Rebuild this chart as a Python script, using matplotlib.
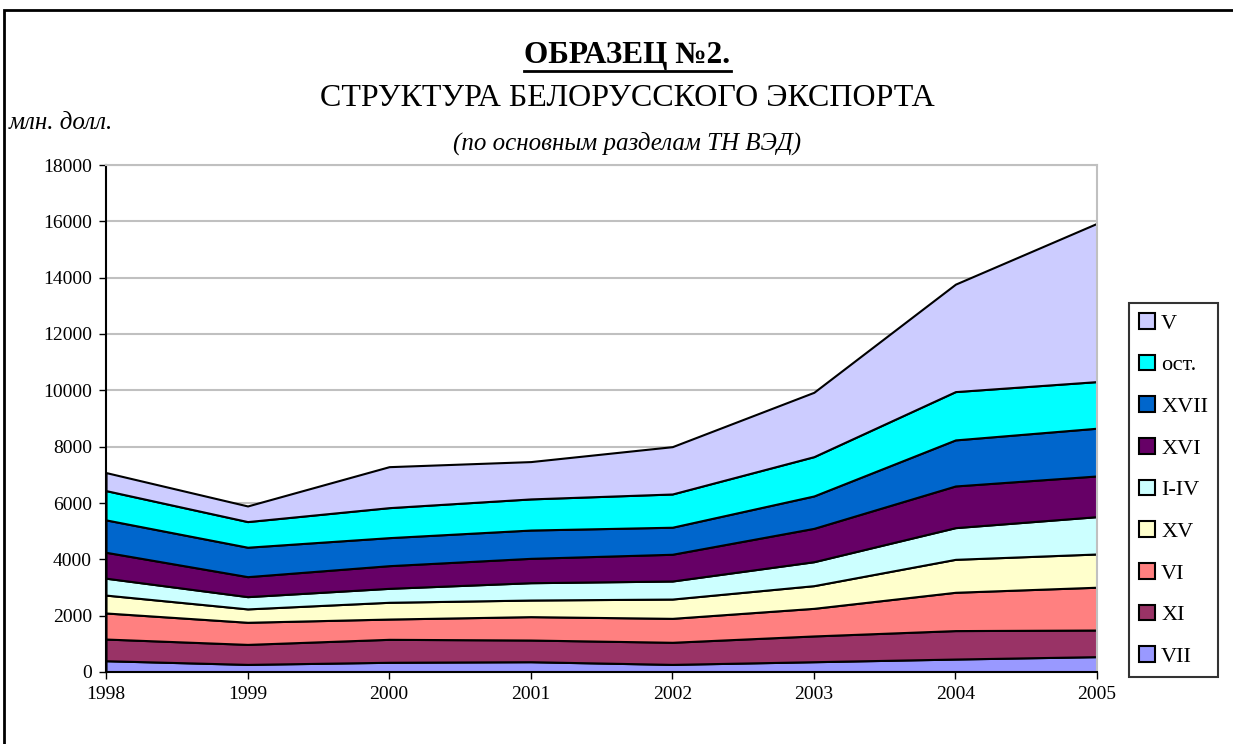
import matplotlib.pyplot as plt
import matplotlib.patches as mpatches

plt.rcParams['font.family'] = ['Liberation Serif', 'DejaVu Serif']

years = [1998, 1999, 2000, 2001, 2002, 2003, 2004, 2005]

# разделы ТН ВЭД, млн. долл. (снизу вверх)
VII = [400, 270, 345, 365, 270, 365, 460, 545]
XI = [770, 710, 815, 770, 785, 915, 1010, 945]
VI = [925, 785, 720, 830, 850, 980, 1360, 1520]
XV = [635, 475, 595, 590, 685, 805, 1170, 1180]
I_IV = [600, 435, 495, 615, 640, 850, 1125, 1325]
XVI = [920, 710, 805, 865, 950, 1185, 1480, 1445]
XVII = [1150, 1045, 995, 1005, 960, 1150, 1635, 1695]
ost = [1040, 910, 1065, 1105, 1180, 1395, 1715, 1655]
V = [640, 555, 1455, 1325, 1680, 2285, 3815, 5620]

names = ["VII", "XI", "VI", "XV", "I-IV", "XVI", "XVII", "ост.", "V"]
cvet = ["#9999FF", "#993366", "#FF8080", "#FFFFCC", "#CCFFFF",
        "#660066", "#0066CC", "#00FFFF", "#CCCCFF"]

W, H = 1233, 744
fig = plt.figure(figsize=(W / 100, H / 100), dpi=100)

# рамка вокруг диаграммы
fig.patches.append(mpatches.Rectangle((4 / W, -0.1), 1.2, (H - 10) / H + 0.1,
                                      transform=fig.transFigure, fill=False,
                                      edgecolor="black", linewidth=2))

ax = fig.add_axes([106 / W, (H - 672) / H, (1097 - 106) / W, (672 - 165) / H])
polys = ax.stackplot(years, VII, XI, VI, XV, I_IV, XVI, XVII, ost, V,
                     colors=cvet, labels=names, edgecolor="black", linewidth=1.5)

ax.set_xlim(1998, 2005)
ax.set_ylim(0, 18000)
ax.set_yticks(range(0, 18001, 2000))
ax.set_xticks(years)
ax.tick_params(labelsize=14, direction="out", length=5, width=1, pad=5)
ax.grid(axis="y", color="#C0C0C0", linewidth=1.5)
ax.set_axisbelow(True)
ax.spines["left"].set_color("black")
ax.spines["bottom"].set_color("black")
ax.spines["top"].set_color("#C0C0C0")
ax.spines["right"].set_color("#C0C0C0")
for s in ax.spines.values():
    s.set_linewidth(1.5)

fig.text(627 / W, 1 - 56 / H, "ОБРАЗЕЦ №2.", ha="center", va="center",
         fontsize=22.5, fontweight="bold")
fig.add_artist(plt.Line2D([524 / W, 731 / W], [1 - 71 / H, 1 - 71 / H],
                          color="black", linewidth=2))
fig.text(627 / W, 1 - 99 / H, "СТРУКТУРА БЕЛОРУССКОГО ЭКСПОРТА", ha="center",
         va="center", fontsize=23)
fig.text(9 / W, 1 - 123 / H, "млн. долл.", ha="left", va="center",
         fontsize=18, style="italic")
fig.text(627 / W, 1 - 143 / H, "(по основным разделам ТН ВЭД)", ha="center",
         va="center", fontsize=18, style="italic")

handles = [mpatches.Patch(facecolor=c, edgecolor="black", linewidth=1.5) for c in cvet]
leg = fig.legend(handles[::-1], names[::-1], loc="upper left",
                 bbox_to_anchor=(1129 / W, 1 - 303 / H), fontsize=16,
                 frameon=True, fancybox=False, edgecolor="black",
                 handlelength=0.7, handleheight=0.7, handletextpad=0.3,
                 labelspacing=0.95, borderpad=0.45, borderaxespad=0)
leg.get_frame().set_linewidth(1.5)

fig.savefig("out.png", dpi=100)
